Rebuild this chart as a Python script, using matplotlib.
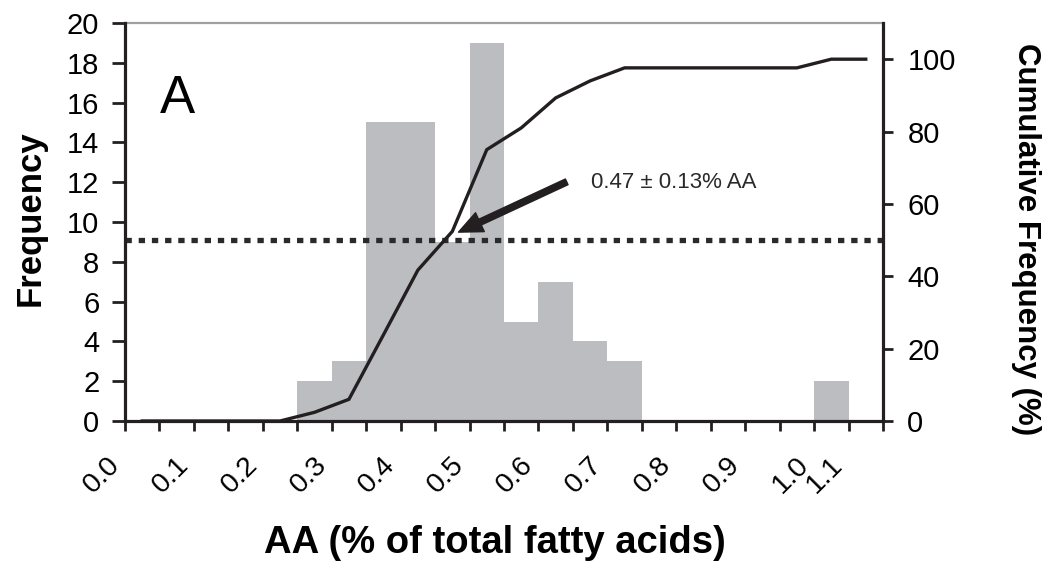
import matplotlib
matplotlib.use("Agg")
import matplotlib.pyplot as plt
from matplotlib import font_manager as fm

# ---------------- data ----------------
bin_starts = [0.00, 0.05, 0.10, 0.15, 0.20, 0.25, 0.30, 0.35, 0.40, 0.45, 0.50,
              0.55, 0.60, 0.65, 0.70, 0.75, 0.80, 0.85, 0.90, 0.95, 1.00, 1.05]
frequency = [0, 0, 0, 0, 0, 2, 3, 15, 15, 9, 19, 5, 7, 4, 3, 0, 0, 0, 0, 0, 2, 0]
cumulative_pct = [0, 0, 0, 0, 0, 2.4, 6.0, 23.8, 41.7, 52.4, 75.0, 81.0, 89.3, 94.0,
                  97.6, 97.6, 97.6, 97.6, 97.6, 97.6, 100, 100]
bin_width = 0.05
label_positions = [0.0, 0.1, 0.2, 0.3, 0.4, 0.5, 0.6, 0.7, 0.8, 0.9, 1.0, 1.05]
label_texts = ["0.0", "0.1", "0.2", "0.3", "0.4", "0.5", "0.6", "0.7", "0.8", "0.9", "1.0", "1.1"]
freq_ticks = [0, 2, 4, 6, 8, 10, 12, 14, 16, 18, 20]
cum_ticks = [0, 20, 40, 60, 80, 100]
median_line = 50
annot_text = "0.47 \u00b1 0.13% AA"


def has_font(name):
    try:
        fm.findfont(fm.FontProperties(family=name), fallback_to_default=False)
        return True
    except Exception:
        return False


main_font = "Liberation Sans" if has_font("Liberation Sans") else "DejaVu Sans"
narrow_font = "Liberation Sans Narrow" if has_font("Liberation Sans Narrow") else None
plt.rcParams["font.family"] = [main_font, "DejaVu Sans"]

W, H = 1046, 565
fig = plt.figure(figsize=(W / 100, H / 100), dpi=100)
ax = fig.add_axes([125 / W, 1 - 421 / H, (883 - 125) / W, (421 - 23) / H])
ax2 = ax.twinx()

bar_color = "#bcbdc1"
ink = "#231f20"

ax.bar(bin_starts, frequency, width=bin_width, align="edge", color=bar_color,
       edgecolor="none", zorder=1)
ax.set_xlim(0, 1.1)
ax.set_ylim(0, 20)
ax.set_yticks(freq_ticks)
ax.set_yticklabels([str(t) for t in freq_ticks])

edges = bin_starts + [1.10]
ax.set_xticks(edges)
lab = []
for e in edges:
    txt = ""
    for p, t in zip(label_positions, label_texts):
        if abs(p - e) < 1e-9:
            txt = t
    lab.append(txt)
ax.set_xticklabels(lab, rotation=45, ha="right", va="top", fontsize=20.5)

ax.tick_params(axis="y", direction="out", length=9.5, width=2, labelsize=21, pad=9,
               color=ink)
ax.tick_params(axis="x", direction="out", length=7.5, width=2, pad=15, color=ink)

# cumulative
mids = [b + bin_width / 2 for b in bin_starts]
ax2.set_ylim(0, 110)
ax2.set_yticks(cum_ticks)
ax2.set_yticklabels([str(t) for t in cum_ticks])
ax2.tick_params(axis="y", direction="out", length=7.5, width=2, labelsize=21, pad=10,
                color=ink)
ax2.axhline(median_line, color="#2a2a2a", lw=3.8, linestyle=(0, (1.2, 1.3)),
            zorder=2)
ax2.plot(mids, cumulative_pct, color=ink, lw=2.4, zorder=3, solid_joinstyle="miter")

# spines
for s in ["left", "bottom", "right"]:
    ax.spines[s].set_visible(False)
ax.spines["top"].set_color("#a0a0a2")
ax.spines["top"].set_linewidth(1.6)
ax2.spines["top"].set_visible(False)
for s in ["left", "bottom", "right"]:
    ax2.spines[s].set_visible(True)
    ax2.spines[s].set_color(ink)
    ax2.spines[s].set_linewidth(2.3)
ax2.spines["left"].set_zorder(5)
ax2.spines["bottom"].set_zorder(5)

# labels
fig.text(495 / W, 1 - 543 / H, "AA (% of total fatty acids)", ha="center", va="center",
         fontsize=27.5, fontweight="bold")
fig.text(30 / W, 1 - 218 / H, "Frequency", rotation=90, ha="center", va="center",
         fontsize=25, fontweight="bold")
fig.text(1026 / W, 1 - 239 / H, "Cumulative Frequency (%)", rotation=270, ha="center",
         va="center", fontsize=22.5, fontweight="bold")
ax.text(0.046, 0.774, "A", transform=ax.transAxes, fontsize=38, ha="left",
        va="baseline")

if narrow_font:
    afont = dict(family=[narrow_font, "DejaVu Sans"], fontsize=18)
else:
    afont = dict(family=[main_font, "DejaVu Sans"], fontsize=16)
ax2.annotate("", xy=(0.484, 52.2), xytext=(0.641, 66.1),
             arrowprops=dict(facecolor=ink, edgecolor=ink, width=4.5, headwidth=15,
                             headlength=17, shrink=0), zorder=6)
ax2.text(0.676, 65.8, annot_text, ha="left", va="center", color="#2a2a2a", **afont)

fig.savefig("out.png", dpi=100)
